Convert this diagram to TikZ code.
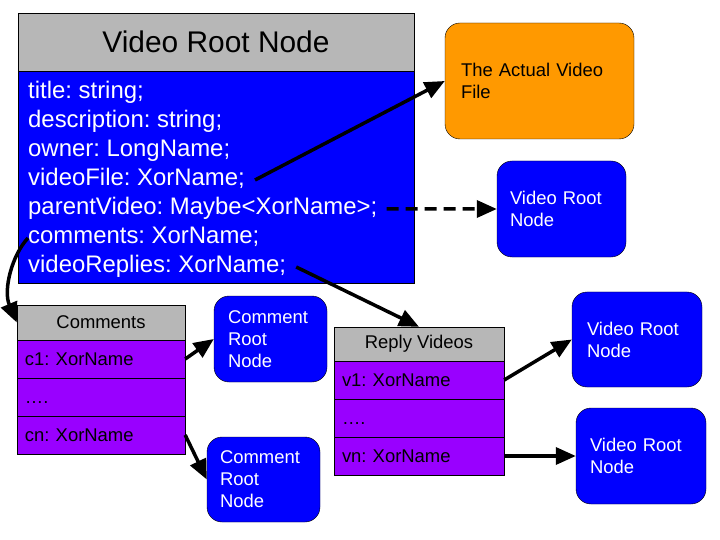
\documentclass[tikz,border=0pt]{standalone}
\usepackage{fontspec}
\setmainfont{Liberation Sans}
\usetikzlibrary{arrows.meta}
\definecolor{hdrgray}{HTML}{B7B7B7}
\definecolor{rootblue}{HTML}{0000FF}
\definecolor{rowpurple}{HTML}{9900FF}
\definecolor{fileorange}{HTML}{FF9900}
\frenchspacing

\begin{document}
\begin{tikzpicture}[x=1bp, y=-1bp,
  hdr/.style={draw,fill=hdrgray,inner sep=0pt,font=\fontsize{18.5}{22}\selectfont},
  row/.style={draw,fill=rowpurple,minimum width=168bp,minimum height=38bp,text width=152bp,text height=14bp,text depth=2bp,align=left,inner xsep=8bp,inner ysep=0pt,font=\fontsize{18.5}{22}\selectfont},
  rbox/.style={draw,rounded corners=15bp,fill=rootblue,text=white,align=left,inner xsep=0pt,font=\fontsize{18.5}{22}\selectfont},
  field/.style={text=white,inner sep=0pt,text height=17bp,text depth=5bp,font=\fontsize{24}{29}\selectfont},
  link/.style={line width=3.5bp,-{Triangle[length=20bp,width=17bp]}},
]
  \useasboundingbox (0,0) rectangle (720,540);

  % the video root node
  \node[hdr,minimum width=396bp,minimum height=58bp,font=\fontsize{30}{36}\selectfont] (roothdr) at (216,42) {Video Root Node};
  \node[draw,fill=rootblue,minimum width=396bp,minimum height=212bp] (rootbody) at (216,177) {};
  \foreach \txt [count=\i] in {title: string;, description: string;, owner: LongName;, videoFile: XorName;, parentVideo: Maybe<XorName>;, comments: XorName;, videoReplies: XorName;}
    \node[field,anchor=base west] (f\i) at (28,70+29*\i) {\txt};

  \node[rbox,fill=fileorange,text=black,minimum width=189bp,minimum height=116bp,text width=157bp] (vidfile) at (539.5,81) {The Actual Video\\File};
  \node[rbox,minimum width=129bp,minimum height=96bp,text width=103bp] (parent) at (561.5,209) {Video Root\\Node};

  % comments table
  \node[hdr,minimum width=168bp,minimum height=35bp] (comhdr) at (101,322.5) {Comments};
  \node[row] (c1) at (101,359) {c1: XorName};
  \node[row] (cdots) at (101,397) {\dots.};
  \node[row] (cn) at (101,435) {cn: XorName};
  \node[rbox,minimum width=113bp,minimum height=86bp,text width=85bp] (cr1) at (270.5,339) {Comment\\Root\\Node};
  \node[rbox,minimum width=113bp,minimum height=85bp,text width=87bp] (cr2) at (263.5,479.5) {Comment\\Root\\Node};

  % reply videos table
  \node[hdr,minimum width=170bp,minimum height=34bp] (rephdr) at (419,344) {Reply Videos};
  \node[row,minimum width=170bp,text width=154bp] (v1) at (419,380) {v1: XorName};
  \node[row,minimum width=170bp,text width=154bp] (vdots) at (419,418) {\dots.};
  \node[row,minimum width=170bp,text width=154bp] (vn) at (419,456) {vn: XorName};
  \node[rbox,minimum width=130bp,minimum height=95bp,text width=100bp] (vr1) at (637,339.5) {Video Root\\Node};
  \node[rbox,minimum width=130bp,minimum height=96bp,text width=102bp] (vr2) at (641,456) {Video Root\\Node};

  % links
  \draw[link] ([xshift=10bp]f4.east) -- (vidfile.west);
  \draw[link,dash pattern=on 12bp off 7bp] ([xshift=9bp]f5.east) -- (parent.west);
  \draw[link] (f6.west) .. controls (12,255) and (3,290) .. (comhdr.west);
  \draw[link] ([xshift=10bp]f7.east) -- (rephdr.north);
  \draw[link] (c1.east) -- (cr1.west);
  \draw[link] (cn.east) -- (cr2.west);
  \draw[link] (v1.east) -- (vr1.west);
  \draw[link] (vn.east) -- (vr2.west);
\end{tikzpicture}
\end{document}
